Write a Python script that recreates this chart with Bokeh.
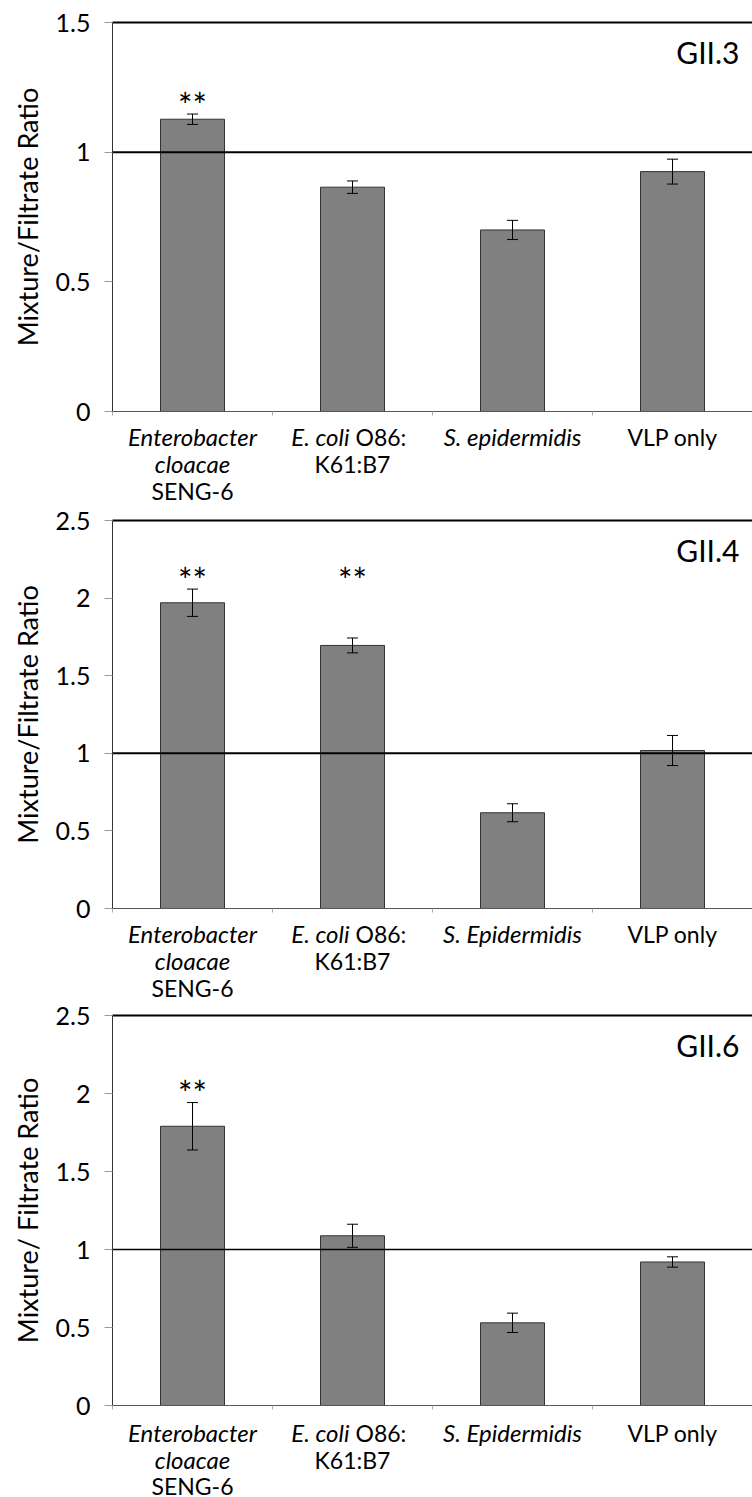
from bokeh.plotting import figure
from bokeh.models import (ColumnDataSource, Whisker, TeeHead, Span,
                          LinearAxis, FixedTicker, Range1d, NumeralTickFormatter)
from bokeh.layouts import column
from bokeh.embed import file_html
from bokeh.resources import INLINE
from bokeh.core.properties import value

FONT = "Lato"

# Strains tested (one bar each)
strains = ["Enterobacter cloacae SENG-6", "E. coli O86:K61:B7",
           "S. epidermidis", "VLP only"]

# Category labels, line by line, as (text, font style) runs
labels_gii3 = [
    [[("Enterobacter", "italic")], [("cloacae", "italic")], [("SENG-6", "normal")]],
    [[("E. coli", "italic"), ("O86:", "normal")], [("K61:B7", "normal")]],
    [[("S. epidermidis", "italic")]],
    [[("VLP only", "normal")]],
]
labels_gii46 = [
    [[("Enterobacter", "italic")], [("cloacae", "italic")], [("SENG-6", "normal")]],
    [[("E. coli", "italic"), ("O86:", "normal")], [("K61:B7", "normal")]],
    [[("S. Epidermidis", "italic")]],
    [[("VLP only", "normal")]],
]

# Mixture/filtrate ratios (mean, error) and significance marks
gii3_mean = [1.127, 0.865, 0.700, 0.925]
gii3_err = [0.020, 0.024, 0.037, 0.048]
gii3_sig = ["**", "", "", ""]

gii4_mean = [1.970, 1.695, 0.617, 1.018]
gii4_err = [0.088, 0.048, 0.058, 0.097]
gii4_sig = ["**", "**", "", ""]

gii6_mean = [1.790, 1.088, 0.530, 0.920]
gii6_err = [0.152, 0.074, 0.062, 0.033]
gii6_sig = ["**", "", "", ""]

y_ticks_15 = [0, 0.5, 1, 1.5]
y_ticks_25 = [0, 0.5, 1, 1.5, 2, 2.5]

CHART_BOTTOM = 16  # room under the frame for the boundary ticks
LABEL_SIZE = {"normal": "23px", "italic": "24px"}


def chart(tag, ylabel, mean, err, sig, yticks, height, top, left, ref_width=2):
    n = len(mean)
    ymax = yticks[-1]
    p = figure(width=752, height=height, x_range=Range1d(0, n),
               y_range=Range1d(0, ymax), output_backend="svg",
               toolbar_location=None, min_border_left=left,
               min_border_right=0, min_border_top=top,
               min_border_bottom=CHART_BOTTOM)
    p.outline_line_color = None
    p.grid.visible = False
    p.background_fill_color = "white"
    p.border_fill_color = "white"

    xs = [i + 0.5 for i in range(n)]
    upper = [m + e for m, e in zip(mean, err)]
    lower = [m - e for m, e in zip(mean, err)]
    src = ColumnDataSource(dict(x=xs, mean=mean, upper=upper, lower=lower))
    p.vbar(x="x", top="mean", bottom=0, width=0.4, source=src,
           fill_color="#808080", line_color="#333333", line_width=1)

    p.add_layout(Whisker(base="x", upper="upper", lower="lower", source=src,
                         line_color="black", line_width=1, level="overlay",
                         upper_head=TeeHead(size=11, line_color="black", line_width=1),
                         lower_head=TeeHead(size=11, line_color="black", line_width=1)))

    p.add_layout(Span(location=1, dimension="width", line_color="black",
                      line_width=ref_width))

    # significance marks, all on one level above the tallest marked error bar
    marked = [i for i, s in enumerate(sig) if s]
    if marked:
        level = max(upper[i] for i in marked)
        p.text(x=[xs[i] for i in marked], y=[level] * len(marked),
               text=[sig[i] for i in marked], y_offset=-10,
               text_align="center", text_baseline="middle",
               text_font=value(FONT), text_font_size="34px", text_color="black")

    # genotype tag, top right
    p.text(x=[n], y=[ymax], text=[tag], x_offset=-13, y_offset=29,
           text_align="right", text_baseline="middle",
           text_font=value(FONT), text_font_size="30px", text_color="black")

    # left axis
    ya = p.yaxis[0]
    ya.ticker = FixedTicker(ticks=yticks)
    ya.formatter = NumeralTickFormatter(format="0.[0]")
    ya.axis_line_color = "#333333"
    ya.axis_line_width = 1
    ya.major_tick_line_color = "#999999"
    ya.major_tick_out = 8
    ya.major_tick_in = 0
    ya.minor_tick_line_color = None
    ya.major_label_text_font = FONT
    ya.major_label_text_font_size = "25px"
    ya.major_label_text_color = "black"
    ya.major_label_standoff = 14
    ya.axis_label = ylabel
    ya.axis_label_text_font = FONT
    ya.axis_label_text_font_size = "27px"
    ya.axis_label_text_font_style = "normal"
    ya.axis_label_text_color = "black"
    ya.axis_label_standoff = 9

    # bottom axis: category boundaries as short ticks, no labels
    xa = p.xaxis[0]
    xa.ticker = FixedTicker(ticks=[], minor_ticks=list(range(n + 1)))
    xa.axis_line_color = "#555555"
    xa.major_tick_line_color = None
    xa.minor_tick_line_color = "#aaaaaa"
    xa.minor_tick_out = 4
    xa.minor_tick_in = 0
    xa.major_label_standoff = 0

    # top border line
    top_axis = LinearAxis(ticker=FixedTicker(ticks=[]), axis_line_width=2,
                          axis_line_color="black", major_tick_line_color=None,
                          minor_tick_line_color=None, major_label_standoff=0)
    p.add_layout(top_axis, "above")
    return p


def label_strip(labels, height, left, centres):
    """Category names under a chart; y is pixels below the chart's zero line."""
    n = len(labels)
    q = figure(width=752, height=height, x_range=Range1d(0, n),
               y_range=Range1d(-(CHART_BOTTOM + height), -CHART_BOTTOM),
               output_backend="svg", toolbar_location=None,
               x_axis_location=None, y_axis_location=None,
               min_border_left=left, min_border_right=0,
               min_border_top=0, min_border_bottom=0)
    q.outline_line_color = None
    q.grid.visible = False
    q.background_fill_color = "white"
    q.border_fill_color = "white"
    for i, lines in enumerate(labels):
        c = i + 0.5
        for k, runs in enumerate(lines):
            y = -centres[k]
            if len(runs) == 1:
                t, st = runs[0]
                q.text(x=[c], y=[y], text=[t], text_align="center",
                       text_baseline="middle", text_font=value(FONT),
                       text_font_style=st, text_font_size=LABEL_SIZE[st],
                       text_color="black")
            else:
                (t1, s1), (t2, s2) = runs
                q.text(x=[c], y=[y], text=[t1], x_offset=-3,
                       text_align="right", text_baseline="middle",
                       text_font=value(FONT), text_font_style=s1,
                       text_font_size=LABEL_SIZE[s1], text_color="black")
                q.text(x=[c], y=[y], text=[t2], x_offset=3,
                       text_align="left", text_baseline="middle",
                       text_font=value(FONT), text_font_style=s2,
                       text_font_size=LABEL_SIZE[s2], text_color="black")
    return q


c1 = chart("GII.3", "Mixture/Filtrate Ratio", gii3_mean, gii3_err, gii3_sig,
           y_ticks_15, height=427, top=22, left=109)
l1 = label_strip(labels_gii3, 75, 109, [25, 52, 79])

c2 = chart("GII.4", "Mixture/Filtrate Ratio", gii4_mean, gii4_err, gii4_sig,
           y_ticks_25, height=422, top=18, left=106)
l2 = label_strip(labels_gii46, 77, 106, [25, 52, 79])

c3 = chart("GII.6", "Mixture/ Filtrate Ratio", gii6_mean, gii6_err, gii6_sig,
           y_ticks_25, height=420, top=14, left=112, ref_width=1.5)
l3 = label_strip(labels_gii46, 76, 112, [27, 54, 80])

layout = column(c1, l1, c2, l2, c3, l3, spacing=0)

with open("out.html", "w") as f:
    f.write(file_html(layout, INLINE))
